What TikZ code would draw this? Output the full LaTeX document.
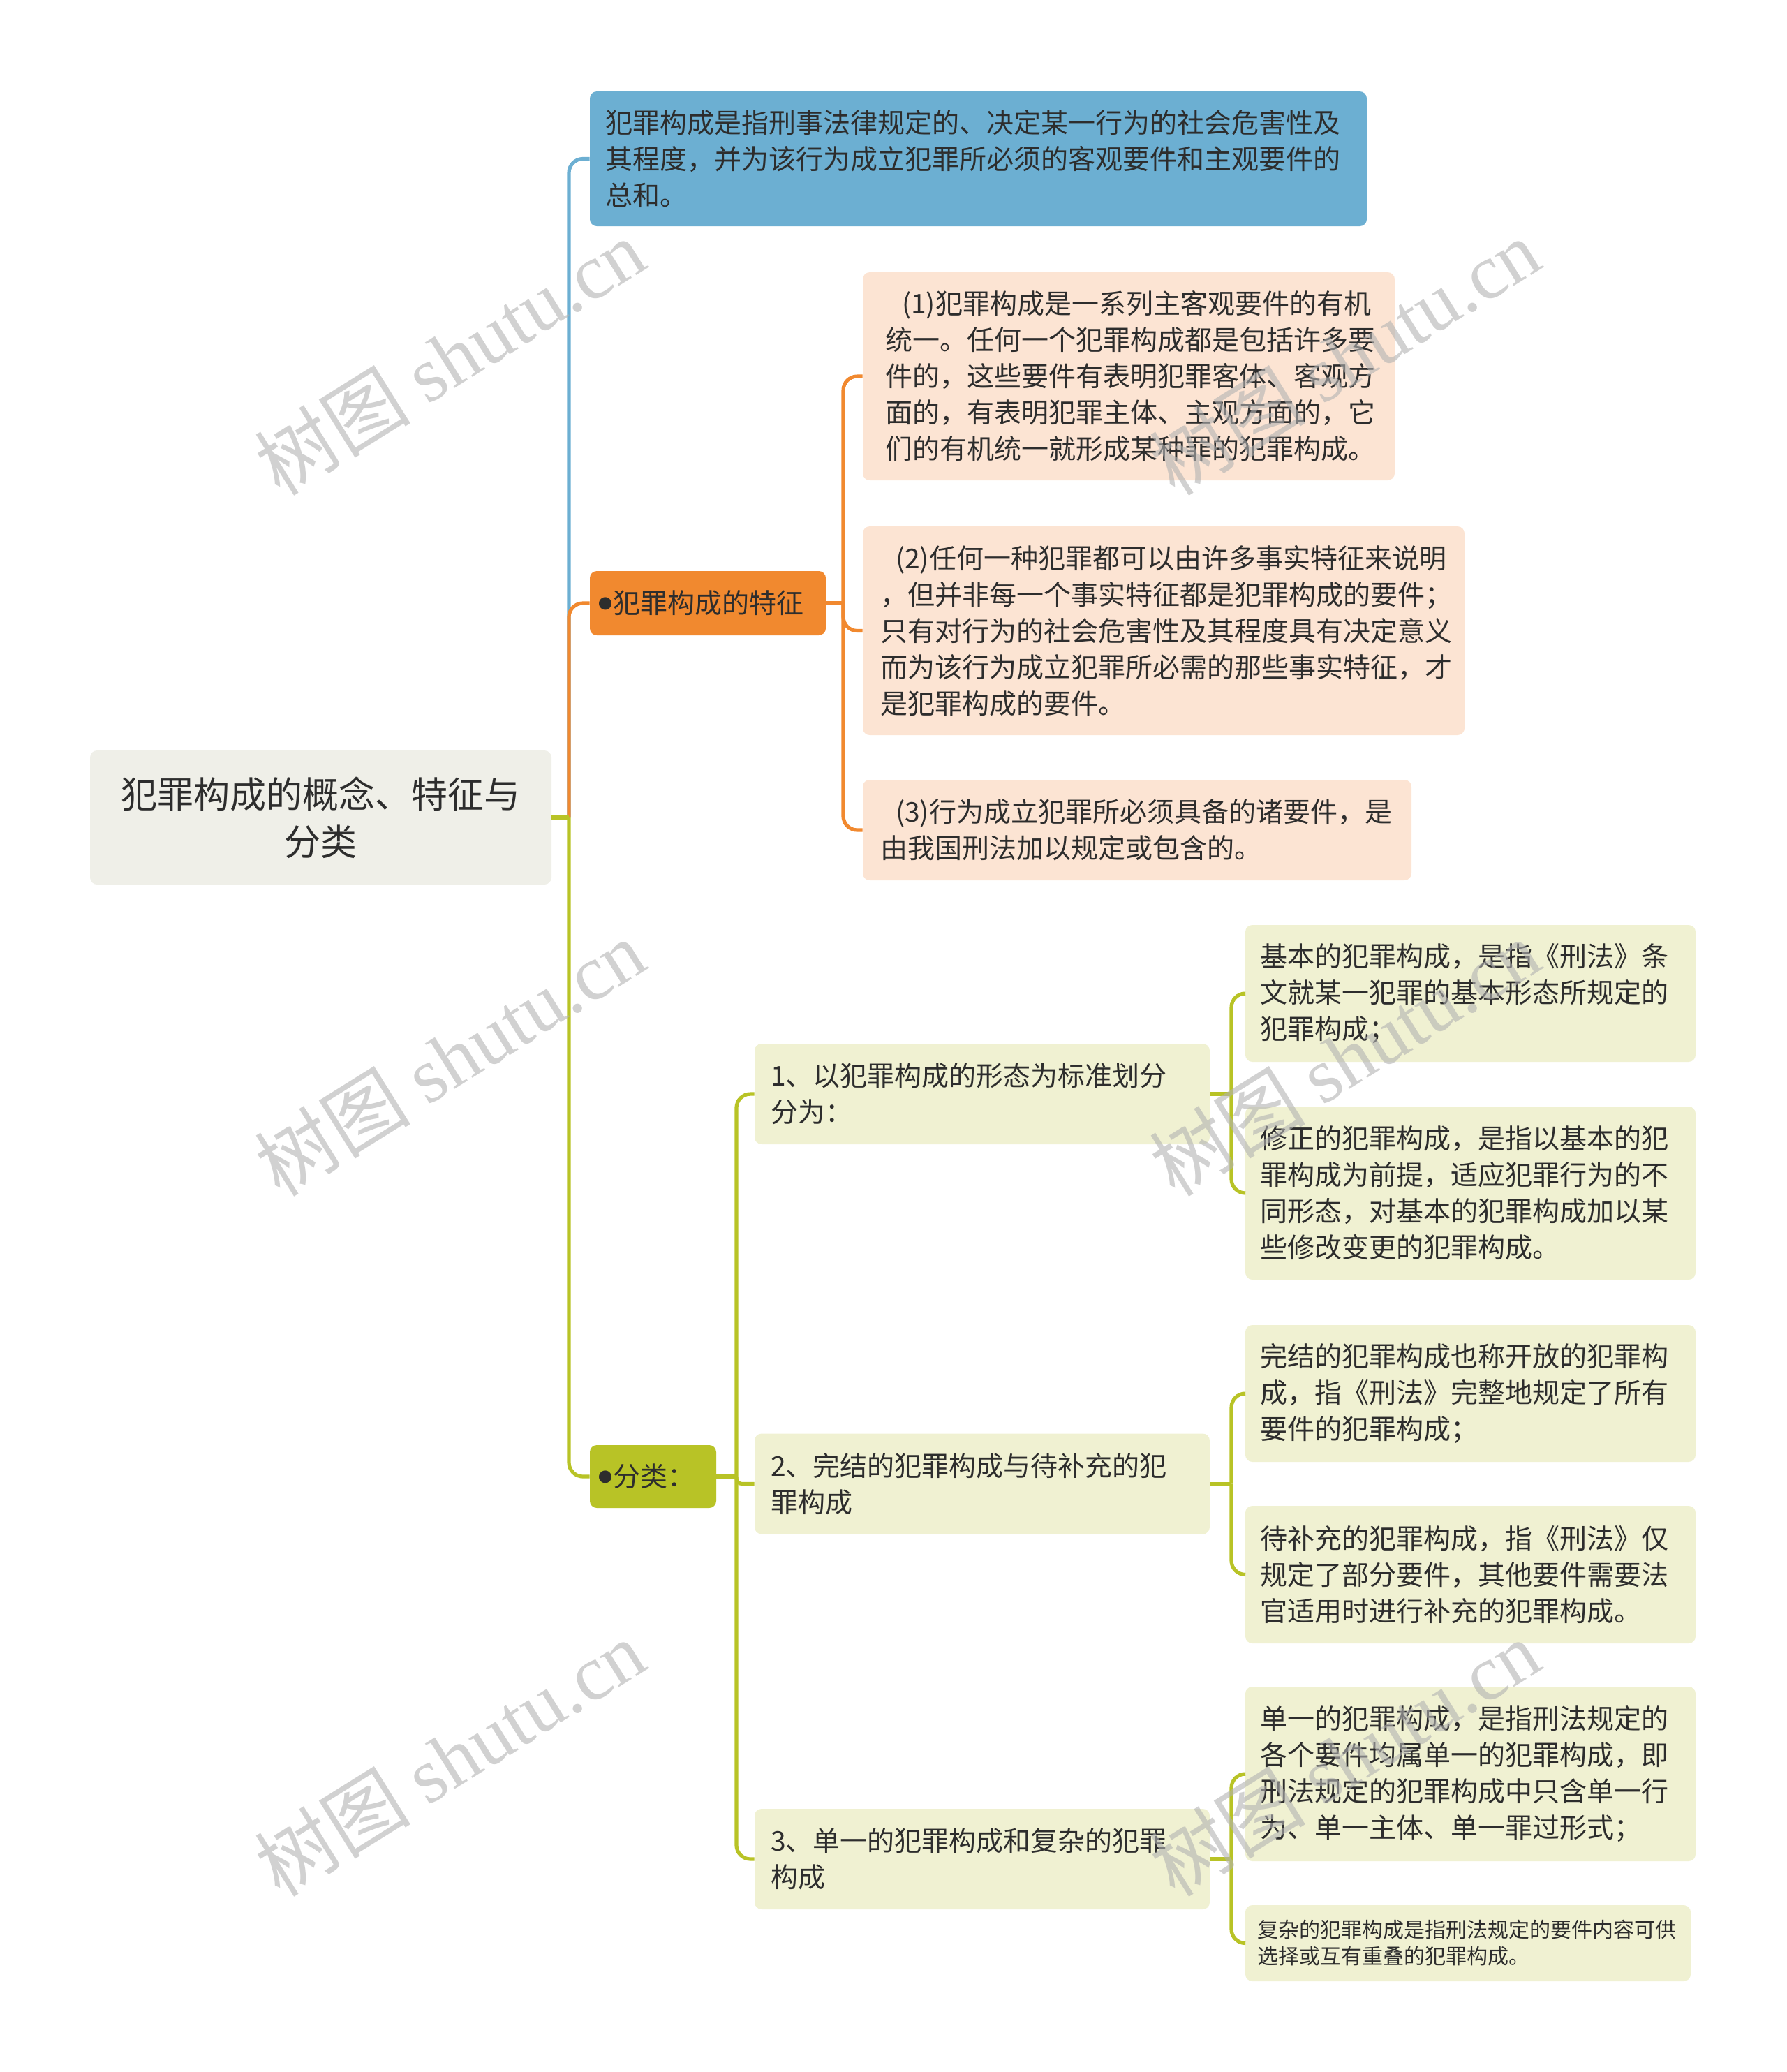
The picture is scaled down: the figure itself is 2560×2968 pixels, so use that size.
\documentclass[tikz,border=0pt]{standalone}
\usepackage{fontspec}
\setmainfont{Noto Sans CJK SC}
\newfontfamily\wmlatin{Liberation Serif}
\definecolor{txt}{RGB}{45,45,45}
\definecolor{rootFill}{RGB}{239,239,232}
\definecolor{blueFill}{RGB}{108,175,210}
\definecolor{orangeC}{RGB}{241,137,47}
\definecolor{orangeL}{RGB}{252,228,211}
\definecolor{greenC}{RGB}{184,195,38}
\definecolor{greenL}{RGB}{240,241,210}
\newcommand\smallbul{\raisebox{3.2pt}{\fontsize{10}{10}\selectfont●}\hspace{0.5pt}}
\begin{document}
\begin{tikzpicture}[x=0.5pt,y=-0.5pt,
  box/.style={rounded corners=5pt, inner ysep=0pt, align=left, text=txt,
    font=\fontsize{19.5}{26}\selectfont},
  con/.style={line width=2.6pt},
  bline/.style={con, draw=blueFill},
  oline/.style={con, draw=orangeC},
  gline/.style={con, draw=greenC},
  wm/.style={text=gray!60, text opacity=0.6, rotate=32,
    font=\fontsize{56}{60}\selectfont}]
\useasboundingbox (0,0) rectangle (2560,2968);

% root
\node[box, fill=rootFill, minimum width=330.5pt, minimum height=96pt, inner xsep=10pt,
  text width=310.5pt, align=center, font=\fontsize{26}{34}\selectfont] (root) at (459.5,1171)
  {犯罪构成的概念、特征与\\分类};

% level 1
\node[box, fill=blueFill, minimum width=556.5pt, minimum height=96.5pt, inner xsep=11pt,
  text width=534.5pt] (blue) at (1401.5,227.5)
  {犯罪构成是指刑事法律规定的、决定某一行为的社会危害性及\\其程度，并为该行为成立犯罪所必须的客观要件和主观要件的\\总和。};
\node[box, fill=orangeC, minimum width=169pt, minimum height=46pt, inner xsep=6pt,
  text width=157pt, align=left] (orng) at (1014,864) {\smallbul 犯罪构成的特征};
\node[box, fill=greenC, minimum width=90.5pt, minimum height=45pt, inner xsep=6pt,
  text width=78.5pt, align=left] (grn) at (935.5,2115) {\smallbul 分类：};

% orange children
\node[box, fill=orangeL, minimum width=381pt, minimum height=149pt, inner xsep=16pt,
  text width=349pt] (c1) at (1617,539)
  {\hspace*{12pt}(1)犯罪构成是一系列主客观要件的有机\\统一。任何一个犯罪构成都是包括许多要\\件的，这些要件有表明犯罪客体、客观方\\面的，有表明犯罪主体、主观方面的，它\\们的有机统一就形成某种罪的犯罪构成。};
\node[box, fill=orangeL, minimum width=431pt, minimum height=149.5pt, inner xsep=12.5pt,
  text width=406pt] (c2) at (1667,903.5)
  {\hspace*{11pt}(2)任何一种犯罪都可以由许多事实特征来说明\\，但并非每一个事实特征都是犯罪构成的要件；\\只有对行为的社会危害性及其程度具有决定意义\\而为该行为成立犯罪所必需的那些事实特征，才\\是犯罪构成的要件。};
\node[box, fill=orangeL, minimum width=393pt, minimum height=72pt, inner xsep=12.5pt,
  text width=368pt] (c3) at (1629,1189)
  {\hspace*{11pt}(3)行为成立犯罪所必须具备的诸要件，是\\由我国刑法加以规定或包含的。};

% green children
\node[box, fill=greenL, minimum width=326pt, minimum height=72pt, inner xsep=11.5pt,
  text width=303pt] (g1) at (1407,1567) {1、以犯罪构成的形态为标准划分\\分为：};
\node[box, fill=greenL, minimum width=326pt, minimum height=72pt, inner xsep=11.5pt,
  text width=303pt] (g2) at (1407,2125.5) {2、完结的犯罪构成与待补充的犯\\罪构成};
\node[box, fill=greenL, minimum width=326pt, minimum height=72pt, inner xsep=11.5pt,
  text width=303pt] (g3) at (1407,2663) {3、单一的犯罪构成和复杂的犯罪\\构成};

% leaves
\node[box, fill=greenL, minimum width=322.5pt, minimum height=98pt, inner xsep=10.5pt,
  text width=301.5pt] (l1a) at (2106.5,1423)
  {基本的犯罪构成，是指《刑法》条\\文就某一犯罪的基本形态所规定的\\犯罪构成；};
\node[box, fill=greenL, minimum width=322.5pt, minimum height=124pt, inner xsep=10.5pt,
  text width=301.5pt] (l1b) at (2106.5,1709)
  {修正的犯罪构成，是指以基本的犯\\罪构成为前提，适应犯罪行为的不\\同形态，对基本的犯罪构成加以某\\些修改变更的犯罪构成。};
\node[box, fill=greenL, minimum width=322.5pt, minimum height=98pt, inner xsep=10.5pt,
  text width=301.5pt] (l2a) at (2106.5,1996)
  {完结的犯罪构成也称开放的犯罪构\\成，指《刑法》完整地规定了所有\\要件的犯罪构成；};
\node[box, fill=greenL, minimum width=322.5pt, minimum height=98.5pt, inner xsep=10.5pt,
  text width=301.5pt] (l2b) at (2106.5,2255.5)
  {待补充的犯罪构成，指《刑法》仅\\规定了部分要件，其他要件需要法\\官适用时进行补充的犯罪构成。};
\node[box, fill=greenL, minimum width=322.5pt, minimum height=125pt, inner xsep=10.5pt,
  text width=301.5pt] (l3a) at (2106.5,2541)
  {单一的犯罪构成，是指刑法规定的\\各个要件均属单一的犯罪构成，即\\刑法规定的犯罪构成中只含单一行\\为、单一主体、单一罪过形式；};
\node[box, fill=greenL, minimum width=319pt, minimum height=54.5pt, inner xsep=8.5pt,
  text width=302pt, font=\fontsize{15}{19}\selectfont] (l3b) at (2103,2783.5)
  {复杂的犯罪构成是指刑法规定的要件内容可供\\选择或互有重叠的犯罪构成。};

% connectors: root level
\coordinate (J0) at (815,1171);
\draw[bline, rounded corners=10pt] (J0) |- (blue.west);
\draw[oline, rounded corners=10pt] (J0) |- (orng.west);
\draw[gline, rounded corners=10pt] (J0) |- (grn.west);
\draw[gline] (root.east) -- (J0);

% orange branch
\coordinate (J1) at (1208,864);
\draw[oline] (orng.east) -- (J1);
\draw[oline, rounded corners=10pt] (J1) |- (c1.west);
\draw[oline, rounded corners=10pt] (J1) |- (c2.west);
\draw[oline, rounded corners=10pt] (J1) |- (c3.west);

% green branch
\coordinate (J2) at (1055,2115);
\draw[gline] (grn.east) -- (J2);
\draw[gline, rounded corners=10pt] (J2) |- (g1.west);
\draw[gline, rounded corners=4pt] (J2) |- (g2.west);
\draw[gline, rounded corners=10pt] (J2) |- (g3.west);

\coordinate (J3) at (1764,1567);
\draw[gline] (g1.east) -- (J3);
\draw[gline, rounded corners=10pt] (J3) |- (l1a.west);
\draw[gline, rounded corners=10pt] (J3) |- (l1b.west);

\coordinate (J4) at (1764,2125.5);
\draw[gline] (g2.east) -- (J4);
\draw[gline, rounded corners=10pt] (J4) |- (l2a.west);
\draw[gline, rounded corners=10pt] (J4) |- (l2b.west);

\coordinate (J5) at (1764,2663);
\draw[gline] (g3.east) -- (J5);
\draw[gline, rounded corners=10pt] (J5) |- (l3a.west);
\draw[gline, rounded corners=10pt] (J5) |- (l3b.west);

% watermarks
\node[wm] (wm1) at (644,511) {树图 {\wmlatin shutu.cn}};
\node[wm] (wm2) at (1926,511) {树图 {\wmlatin shutu.cn}};
\node[wm] (wm3) at (644,1515) {树图 {\wmlatin shutu.cn}};
\node[wm] (wm4) at (1926,1515) {树图 {\wmlatin shutu.cn}};
\node[wm] (wm5) at (644,2518) {树图 {\wmlatin shutu.cn}};
\node[wm] (wm6) at (1926,2518) {树图 {\wmlatin shutu.cn}};
\end{tikzpicture}
\end{document}
